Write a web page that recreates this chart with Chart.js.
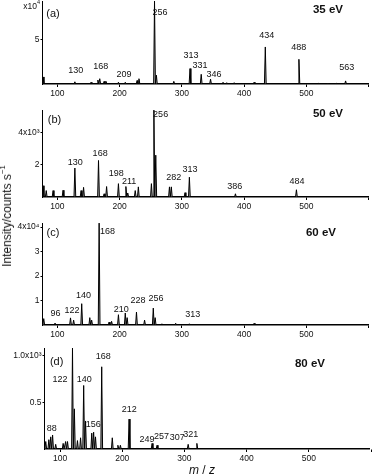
<!DOCTYPE html>
<html><head><meta charset="utf-8">
<script src="https://cdn.jsdelivr.net/npm/chart.js@4.4.0/dist/chart.umd.min.js"></script>
<style>
html,body{margin:0;padding:0;background:#fff;}
#wrap{position:relative;width:373px;height:475px;overflow:hidden;font-family:"Liberation Sans",Arial,sans-serif;color:#111;}
canvas{position:absolute;left:0;}
.t{position:absolute;transform:translate(-50%,-50%);white-space:nowrap;line-height:1;}
.r{position:absolute;transform:translate(-100%,-50%);white-space:nowrap;line-height:1;}
sup{font-size:65%;vertical-align:top;position:relative;top:-2px;}
</style></head><body><div id="wrap"></div>
<script>
// ---------- data ----------
const xTickValues = [100, 200, 300, 400, 500, 600];

// (a) 35 eV, intensity x10^4
const mzA  = [77, 128, 154, 165, 168, 175, 178, 198, 209, 228, 231, 256, 259, 287, 313, 331, 346, 366, 372, 384, 416, 434, 488, 520, 535, 548, 563];
const intA = [0.8, 0.25, 0.2, 0.45, 0.6, 0.3, 0.3, 0.2, 0.2, 0.4, 0.6, 9.4, 1.0, 0.3, 1.75, 1.1, 0.55, 0.2, 0.15, 0.15, 0.2, 4.2, 2.8, 0.08, 0.1, 0.08, 0.35];
const labA    = ['130','168','209','256','313','331','346','434','488','563'];
const labMzA  = [129.5, 169.7, 206.8, 264.7, 314.7, 329, 351.7, 436.2, 487.7, 565];
const labIntA = [1.5, 1.95, 1.12, 8.1, 3.26, 2.13, 1.12, 5.5, 4.16, 1.9];
const yTicksA = [5];
const yTickLabA = ['5'];

// (b) 50 eV, intensity x10^3
const mzB  = [77, 82, 93, 109, 128, 138, 142, 166, 175, 179, 198, 210, 213, 225, 230, 251, 255, 258, 280, 283, 305, 312, 386, 484];
const intB = [0.7, 0.4, 0.4, 0.42, 1.8, 0.4, 0.6, 2.27, 0.2, 0.65, 0.83, 0.65, 0.25, 0.4, 0.63, 0.83, 5.4, 2.6, 0.63, 0.63, 0.27, 1.23, 0.2, 0.45];
const labB    = ['130','168','198','211','256','282','313','386','484'];
const labMzB  = [128.7, 168.6, 194.4, 215.3, 265.8, 287, 313, 385, 485];
const labIntB = [2.14, 2.73, 1.46, 0.96, 5.1, 1.2, 1.73, 0.67, 0.94];
const yTicksB = [2, 4];
const yTickLabB = ['2', '4x10³'];

// (c) 60 eV, intensity x10^4
const mzC  = [78, 96, 121, 126, 139, 152, 155, 167, 183, 187, 198, 209, 212, 227, 240, 254, 257, 268, 290, 312, 350, 416];
const intC = [0.26, 0.08, 0.29, 0.2, 0.87, 0.3, 0.2, 4.16, 0.12, 0.15, 0.42, 0.49, 0.3, 0.53, 0.2, 0.69, 0.3, 0.05, 0.07, 0.05, 0.04, 0.07];
const labC    = ['96','122','140','168','210','228','256','313'];
const labMzC  = [96.7, 123.5, 141.8, 180.5, 202.7, 229.3, 258.3, 317.4];
const labIntC = [0.45, 0.61, 1.22, 3.8, 0.64, 0.99, 1.09, 0.44];
const yTicksC = [1, 2, 3, 4];
const yTickLabC = ['1', '2', '3', '4x10⁴'];

// (d) 80 eV, intensity x10^3
const mzD  = [77, 82, 85, 88, 93, 105, 109, 112, 120, 123, 128, 133, 138, 141, 151, 154, 157, 167, 184, 193, 197, 211, 248, 256, 306, 320];
const intD = [0.08, 0.1, 0.13, 0.15, 0.05, 0.06, 0.08, 0.08, 1.08, 0.43, 0.09, 0.12, 0.68, 0.3, 0.17, 0.18, 0.13, 0.88, 0.12, 0.04, 0.04, 0.32, 0.06, 0.04, 0.05, 0.06];
const labD    = ['88','122','140','168','156','212','249','257','307','321'];
const labMzD  = [86.6, 100, 138.8, 169.5, 153.3, 211.1, 240, 263.2, 288.5, 310];
const labIntD = [0.22, 0.74, 0.74, 0.99, 0.26, 0.42, 0.097, 0.13, 0.126, 0.15];
const yTicksD = [0.5, 1.0];
const yTickLabD = ['0.5', '1.0x10³'];

// ---------- layout (style) ----------
const panels = [
  {mz: mzA, it: intA, lab: labA, lmz: labMzA, lit: labIntA, yt: yTicksA, ytl: yTickLabA, ymax: 9.4,  top: 1,   base: 84,    left: 42.5, right: 368, xmin: 76, xmax: 599},
  {mz: mzB, it: intB, lab: labB, lmz: labMzB, lit: labIntB, yt: yTicksB, ytl: yTickLabB, ymax: 5.4,  top: 110, base: 196.5, left: 42.5, right: 368, xmin: 76, xmax: 599},
  {mz: mzC, it: intC, lab: labC, lmz: labMzC, lit: labIntC, yt: yTicksC, ytl: yTickLabC, ymax: 4.16, top: 223, base: 325,   left: 42.5, right: 368, xmin: 76, xmax: 599},
  {mz: mzD, it: intD, lab: labD, lmz: labMzD, lit: labIntD, yt: yTicksD, ytl: yTickLabD, ymax: 1.08, top: 348, base: 449,   left: 44.5, right: 370, xmin: 75, xmax: 597}
];
const PADTOP = 6, XH = 16, HW = 1.4;
const FONT = '"Liberation Sans", Arial, sans-serif';

function buildLine(mz, it) {
  const pts = [];
  for (let i = 0; i < mz.length; i++) {
    const l = mz[i] - HW, r = mz[i] + HW;
    if (i === 0) pts.push({x: l, y: 0});
    else {
      const pr = mz[i-1] + HW;
      if (pr <= l) { pts.push({x: pr, y: 0}); pts.push({x: l, y: 0}); }
      else pts.push({x: (mz[i-1] + mz[i]) / 2, y: 0});
    }
    pts.push({x: mz[i], y: it[i]});
    if (i === mz.length - 1) pts.push({x: r, y: 0});
  }
  return pts;
}

const peakLabels = {
  id: 'peakLabels',
  afterDatasetsDraw(chart, args, opts) {
    const ctx = chart.ctx, xs = chart.scales.x, ys = chart.scales.y;
    ctx.save();
    ctx.font = '9px ' + FONT;
    ctx.fillStyle = '#111';
    ctx.textAlign = 'center';
    ctx.textBaseline = 'middle';
    opts.text.forEach((t, i) => {
      ctx.fillText(t, xs.getPixelForValue(opts.mz[i]), ys.getPixelForValue(opts.v[i]));
    });
    ctx.restore();
  }
};

const wrap = document.getElementById('wrap');
panels.forEach(p => {
  const c = document.createElement('canvas');
  const h = Math.round(p.base - p.top + PADTOP + XH);
  c.width = 373; c.height = h;
  c.style.top = (p.top - PADTOP) + 'px';
  c.style.width = '373px'; c.style.height = h + 'px';
  wrap.appendChild(c);
  new Chart(c, {
    type: 'line',
    data: {datasets: [{
      data: buildLine(p.mz, p.it),
      borderColor: '#000', borderWidth: 1, pointRadius: 0, tension: 0,
      fill: 'origin', backgroundColor: 'rgba(110,110,110,0.55)'
    }]},
    options: {
      responsive: false, animation: false, devicePixelRatio: 1,
      layout: {padding: {top: PADTOP, right: 373 - p.right, left: 0, bottom: 0}},
      plugins: {legend: {display: false}, tooltip: {enabled: false},
        peakLabels: {text: p.lab, mz: p.lmz, v: p.lit}},
      scales: {
        x: {type: 'linear', min: p.xmin, max: p.xmax,
          afterBuildTicks: s => { s.ticks = xTickValues.map(v => ({value: v})); },
          afterFit: s => { s.height = XH; },
          ticks: {autoSkip: false, maxRotation: 0, padding: 2, color: '#111',
            font: {family: FONT, size: 8.5},
            callback: v => (v === 600 ? '' : String(v))},
          grid: {drawOnChartArea: false, drawTicks: true, tickLength: 3, color: '#000', lineWidth: 1},
          border: {display: true, color: '#000', width: 1.5}
        },
        y: {type: 'linear', min: 0, max: p.ymax,
          afterBuildTicks: s => { s.ticks = p.yt.map(v => ({value: v})); },
          afterFit: s => { s.width = p.left; },
          ticks: {padding: 1, color: '#111', font: {family: FONT, size: 8.5},
            callback: (v) => { const k = p.yt.indexOf(v); return k >= 0 ? p.ytl[k] : ''; }},
          grid: {drawOnChartArea: false, drawTicks: true, tickLength: 2, color: '#000', lineWidth: 1},
          border: {display: true, color: '#000', width: 1}
        }
      }
    },
    plugins: [peakLabels]
  });
});

// ---------- text ----------
function addText(html, x, y, style, cls) {
  const d = document.createElement('div');
  d.className = cls || 't';
  d.innerHTML = html;
  d.style.left = x + 'px'; d.style.top = y + 'px';
  Object.assign(d.style, style || {});
  wrap.appendChild(d);
  return d;
}
const panelTexts = [
  {letter: '(a)', lx: 53,   ly: 13,  ev: '35 eV', ex: 328, ey: 10},
  {letter: '(b)', lx: 54.5, ly: 119, ev: '50 eV', ex: 328, ey: 114},
  {letter: '(c)', lx: 53,   ly: 232, ev: '60 eV', ex: 321, ey: 233},
  {letter: '(d)', lx: 56.7, ly: 361, ev: '80 eV', ex: 310, ey: 364}
];
panelTexts.forEach(t => {
  addText(t.letter, t.lx, t.ly, {fontSize: '11px'});
  addText(t.ev, t.ex, t.ey, {fontSize: '11.5px', fontWeight: 'bold'});
});
addText('x10<sup>4</sup>', 40, 6, {fontSize: '8.5px'}, 'r');
addText('Intensity/counts s<sup>−1</sup>', 7, 216, {fontSize: '12px', transform: 'translate(-50%,-50%) rotate(-90deg)'});
addText('<i>m</i> / <i>z</i>', 202, 470, {fontSize: '12px'});
</script>
</body></html>
